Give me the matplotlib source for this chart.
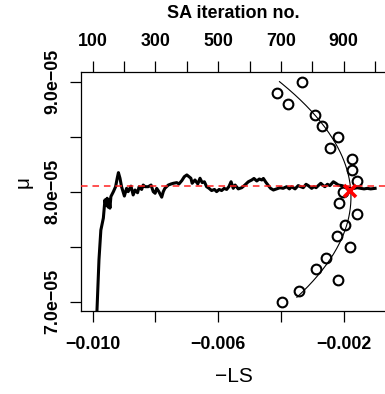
import numpy as np
import matplotlib
matplotlib.use("Agg")
import matplotlib.pyplot as plt

plt.rcParams['font.family'] = ['Liberation Sans', 'DejaVu Sans']

# ---------------- data ----------------
# profile points: mu vs -LS
prof_mu = [9.0, 8.9, 8.8, 8.7, 8.6, 8.5, 8.4, 8.3, 8.2, 8.1, 8.0,
           7.9, 7.8, 7.7, 7.6, 7.5, 7.4, 7.3, 7.2, 7.1, 7.0]          # x1e-05
prof_negls = [-3.319, -4.116, -3.766, -2.915, -2.692, -2.172, -2.437,
              -1.745, -1.745, -1.566, -2.032, -2.141, -1.586, -1.949,
              -2.223, -1.799, -2.554, -2.893, -2.182, -3.415, -3.957]  # x1e-03
curve_mu_range = [7.04, 9.0]   # x1e-05

# SA trace: iteration vs mu (x1e-05)
sa_iter = [112, 120, 126, 134, 139, 142, 146, 149, 152, 155, 158, 166, 173, 178,
           182, 187, 192, 201, 208, 213, 222, 229, 235, 243, 248, 256, 261, 267,
           277, 286, 293, 299, 304, 311, 320, 325, 330, 341, 350, 357, 368, 375,
           384, 392, 400, 407, 413, 417, 426, 435, 442, 449, 456, 463, 471, 479,
           488, 495, 503, 511, 519, 527, 534, 541, 548, 554, 564, 575, 585, 596,
           607, 614, 623, 631, 639, 644, 652, 660, 667, 676, 686, 697, 707, 718,
           727, 734, 745, 755, 763, 771, 780, 787, 798, 805, 812, 819, 827, 833,
           840, 848, 856, 867, 875, 883, 894, 904, 915, 922, 933, 943, 954, 965,
           975, 986, 1000]
sa_mu = [6.80, 7.38, 7.65, 7.76, 7.925, 7.88, 7.94, 7.86, 7.93, 7.85, 7.955, 8.0,
         8.045, 8.12, 8.173, 8.122, 8.045, 7.96, 8.03, 8.0, 8.05, 7.97, 8.015,
         7.99, 8.045, 8.02, 8.06, 8.045, 8.045, 8.06, 8.0, 7.985, 8.03, 8.0, 7.95,
         8.0, 8.03, 8.06, 8.07, 8.076, 8.082, 8.07, 8.1, 8.136, 8.152, 8.136,
         8.122, 8.076, 8.106, 8.07, 8.122, 8.082, 8.09, 8.045, 8.03, 8.01, 8.02,
         8.0, 8.02, 8.01, 8.03, 8.02, 8.045, 8.09, 8.03, 8.06, 8.025, 8.036, 8.06,
         8.09, 8.106, 8.12, 8.097, 8.115, 8.106, 8.12, 8.085, 8.055, 8.03, 8.015,
         8.025, 8.036, 8.03, 8.045, 8.025, 8.045, 8.025, 8.055, 8.045, 8.036,
         8.067, 8.055, 8.03, 8.045, 8.036, 8.055, 8.076, 8.06, 8.045, 8.067,
         8.055, 8.09, 8.076, 8.06, 8.055, 8.045, 8.036, 8.025, 8.03, 8.036, 8.03,
         8.025, 8.03, 8.025, 8.03]

mu_hat = 8.055      # x1e-05, dashed reference line
mle_negls = -1.789  # x1e-03, red cross
mle_mu = 8.006      # x1e-05

# axis definitions
x_ticks = [-0.010, -0.008, -0.006, -0.004, -0.002]
x_labels = ['\u22120.010', '', '\u22120.006', '', '\u22120.002']
y_ticks = [7.0e-05, 7.5e-05, 8.0e-05, 8.5e-05, 9.0e-05]
y_labels = ['7.0e\u221205', '', '8.0e\u221205', '', '9.0e\u221205']
top_ticks = [100, 200, 300, 400, 500, 600, 700, 800, 900, 1000]
top_labels = ['100', '', '300', '', '500', '', '700', '', '900', '']
# top axis aligned: iteration 100 <-> -0.010, 900 <-> -0.002
iter_ref = [100, 900]
ls_ref = [-0.010, -0.002]

xlim = (-0.010363, -0.000684)
ylim = (6.915e-05, 9.085e-05)

# ---------------- figure ----------------
W, H = 385, 394
fig = plt.figure(figsize=(W / 100, H / 100), dpi=100)
L, R, T, B = 81.3, 385.0, 72.3, 311.0
ax = fig.add_axes([L / W, 1 - B / H, (R - L) / W, (B - T) / H])

mu = np.array(prof_mu) * 1e-5
negls = np.array(prof_negls) * 1e-3
ax.plot(negls, mu, linestyle='none', marker='o', ms=7, mfc='none',
        mec='black', mew=1.5)
coef = np.polyfit(mu, negls, 2)
mgrid = np.linspace(curve_mu_range[0] * 1e-5, curve_mu_range[1] * 1e-5, 200)
ax.plot(np.polyval(coef, mgrid), mgrid, color='black', lw=0.8)

ax.set_xlim(*xlim)
ax.set_ylim(*ylim)
ax.set_xticks(x_ticks)
ax.set_xticklabels(x_labels, fontweight='bold', fontsize=12.8)
ax.set_yticks(y_ticks)
ax.set_yticklabels(y_labels, fontweight='bold', fontsize=12.8)
for lab in ax.get_yticklabels():
    lab.set_rotation(90)
    lab.set_va('center')
ax.tick_params(axis='x', direction='out', length=7.8, width=0.9, pad=10.5)
ax.tick_params(axis='y', direction='out', length=7.8, width=0.9, pad=6.5)
ax.spines['right'].set_visible(False)
for s in ['left', 'bottom', 'top']:
    ax.spines[s].set_linewidth(0.9)

# top axis (iterations)
slope = (iter_ref[1] - iter_ref[0]) / (ls_ref[1] - ls_ref[0])
def ls2it(v):
    return iter_ref[0] + (np.asarray(v) - ls_ref[0]) * slope

ax2 = ax.twiny()
ax2.set_xlim(ls2it(xlim[0]), ls2it(xlim[1]))
for s in ax2.spines.values():
    s.set_visible(False)
ax2.set_xticks(top_ticks)
ax2.set_xticklabels(top_labels, fontweight='bold', fontsize=12.8)
ax2.tick_params(axis='x', direction='out', length=7.8, width=0.9, pad=8.5)

ax2.plot(sa_iter, np.array(sa_mu) * 1e-5, color='black', lw=2.2,
         solid_joinstyle='round')
ax2.axhline(mu_hat * 1e-5, color='#ff2020', lw=1.1, dashes=(4.3, 3.2))
ax2.plot([ls2it(mle_negls * 1e-3)], [mle_mu * 1e-5], marker='x', color='red',
         ms=8, mew=2.6, linestyle='none')
ax2.set_ylim(*ylim)

# labels
fig.text(233.5 / W, 1 - 376 / H, '\u2212LS', ha='center', va='center',
         fontsize=15)
fig.text(233.5 / W, 1 - 13.5 / H, 'SA iteration no.', ha='center',
         va='center', fontsize=13, fontweight='bold')
fig.text(23 / W, 1 - 182 / H, '\u03bc', ha='center', va='center',
         fontsize=15, rotation=90)

fig.savefig('out.png', dpi=100)
